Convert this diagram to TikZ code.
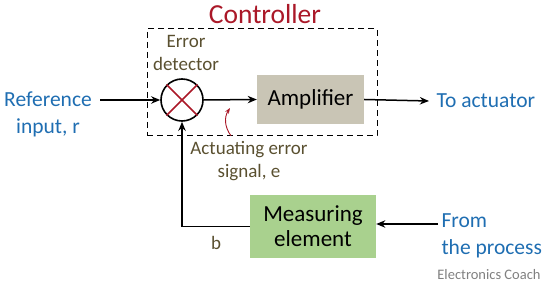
\documentclass[tikz,border=0pt]{standalone}
\usepackage{fontspec}
\setmainfont{Carlito}
\usepackage{tikz}
\usetikzlibrary{arrows.meta, positioning}
\definecolor{ctrlred}{RGB}{170,24,40}
\definecolor{sigblue}{RGB}{31,110,178}
\definecolor{olivetxt}{RGB}{90,80,48}
\definecolor{ampgray}{RGB}{201,197,181}
\definecolor{measgreen}{RGB}{169,209,142}

\begin{document}
\begin{tikzpicture}[
  x=1pt, y=-1pt,
  blockbox/.style={rectangle, inner sep=0pt, align=center, font=\fontsize{23}{27}\selectfont},
  sumjn/.style={circle, draw=black, line width=1.6pt, minimum size=42pt, inner sep=0pt},
  sigtext/.style={text=sigblue, align=center, font=\fontsize{21.5}{27}\selectfont},
  notetext/.style={text=olivetxt, align=center, font=\fontsize{19}{23}\selectfont},
  arrow/.style={-{Stealth[length=3.2mm, width=2.6mm]}, line width=1.5pt}
]
\useasboundingbox (0,0) rectangle (550,286);
% controller box
\node[draw, dash pattern=on 6pt off 4pt, line width=1pt, minimum width=230pt, minimum height=107pt] (ctrl) at (262,82.5) {};
\node[text=ctrlred, font=\fontsize{27.5}{30}\selectfont] (ctrllbl) at (265,14) {Controller};
% blocks
\node[sumjn] (sum) at (182,100) {};
\draw[ctrlred, line width=1.6pt] (sum.north west) -- (sum.south east);
\draw[ctrlred, line width=1.6pt] (sum.north east) -- (sum.south west);
\node[blockbox, fill=ampgray, minimum width=107pt, minimum height=49pt] (amp) at (310.5,99.5) {Amplifier};
\node[blockbox, fill=measgreen, minimum width=126pt, minimum height=63pt] (meas) at (313,226.5) {Measuring\\[-2pt]element};
% signal labels
\node[sigtext] (refin) at (48,114) {Reference\\input, r};
\node[sigtext, anchor=west] (act) at (433,101) {To actuator};
\node[sigtext, align=left, anchor=north west] (proc) at (438,210) {From\\the process};
\node[notetext] (errdet) at (186,53) {Error\\detector};
\node[notetext] (aes) at (249,161) {Actuating error\\signal, e};
\node[notetext] (blbl) at (216,243) {b};
\node[text=gray, font=\fontsize{14.5}{16}\selectfont] (credit) at (489,275) {Electronics Coach};
\coordinate (refstart) at (100,100);
\coordinate (procstart) at (438,224);
\coordinate (epoint) at (230,108);
% connectors
\draw[arrow] (refstart) -- (sum.west);
\draw[arrow] (sum.east) -- (amp.west);
\draw[arrow] (amp.east) -- ([xshift=-4pt]act.west);
\draw[arrow] (procstart) -- (meas.east |- procstart);
\draw[arrow] (meas.west) -| (sum.south);
\draw[-{Stealth[length=2mm]}, ctrlred, line width=0.9pt] ([xshift=-18pt, yshift=2pt]aes.north) to[bend left=35] (epoint);
\end{tikzpicture}
\end{document}
